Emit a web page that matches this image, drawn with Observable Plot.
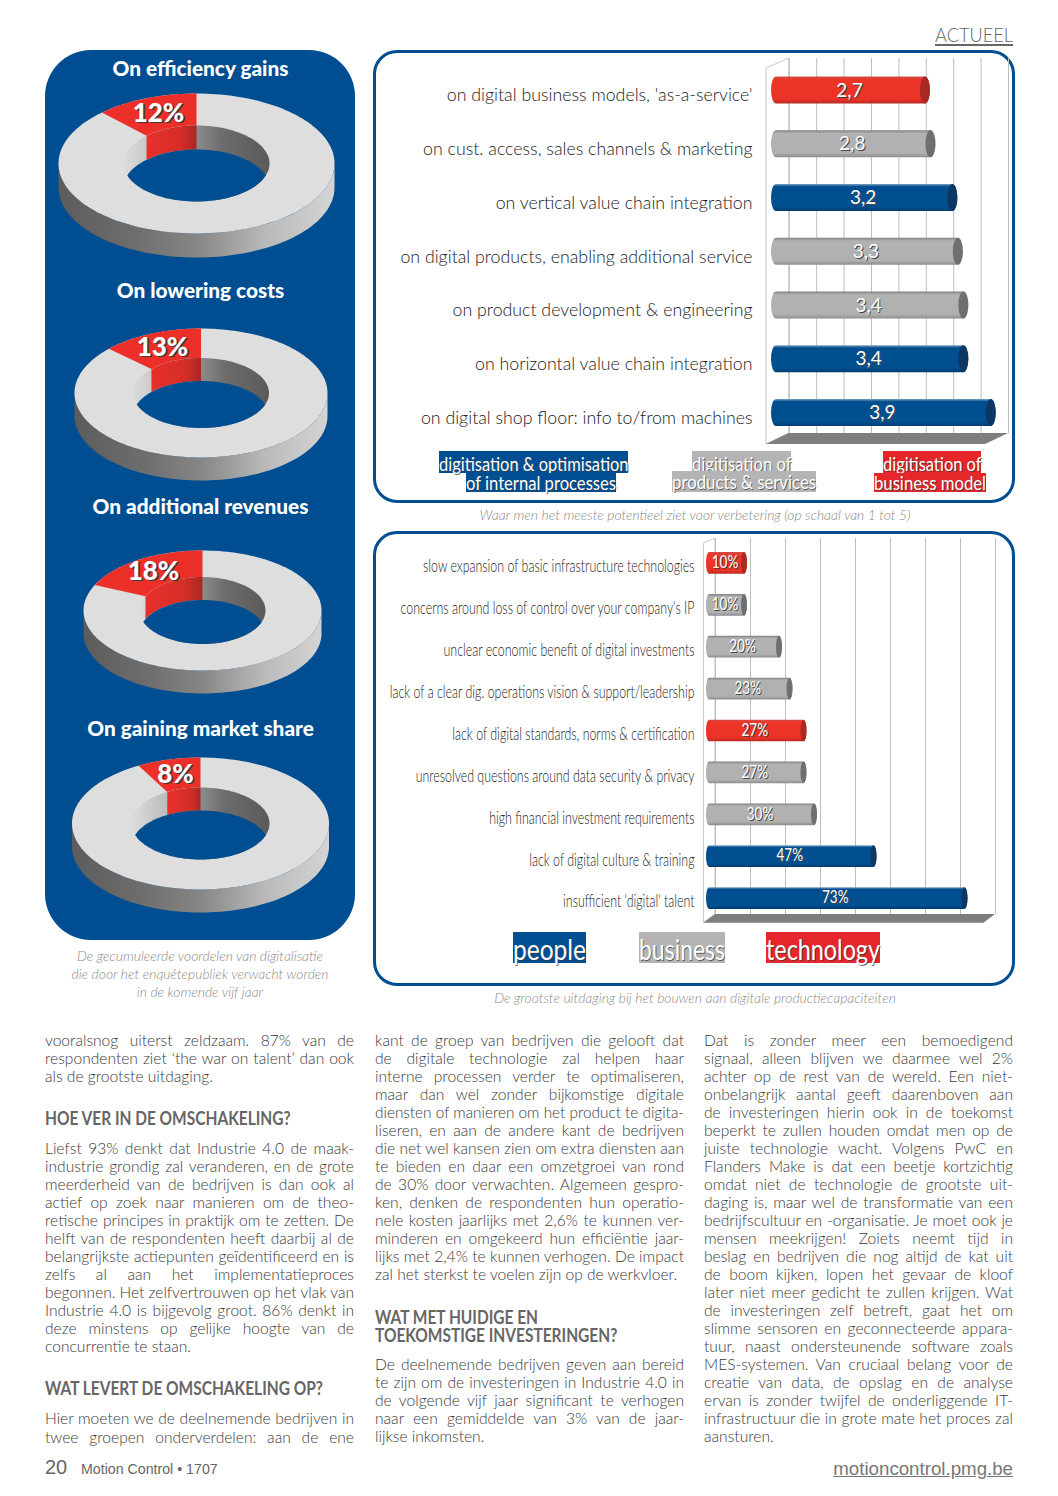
<!DOCTYPE html>
<html><head><meta charset="utf-8">
<script src="https://cdn.jsdelivr.net/npm/d3@7"></script>
<script src="https://cdn.jsdelivr.net/npm/@observablehq/plot@0.6"></script>
<style>
html,body{margin:0;padding:0;background:#fff}
#page{position:relative;width:1058px;height:1496px;overflow:hidden;font-family:Lato,sans-serif;font-weight:300;color:#333}
.abs{position:absolute;white-space:nowrap}
.frame{position:absolute;box-sizing:border-box;border:3.5px solid #004e92;border-radius:24px;left:373px;width:642px}
.plot{position:absolute}
.cap{position:absolute;text-align:center;font-style:italic;color:#8a8a8a;font-size:13.9px;white-space:nowrap}
.line{position:absolute;height:18px;line-height:18px;font-size:15.6px;white-space:nowrap;color:#3a3a3a;width:309px}
.line span{display:inline-block;transform-origin:left center}
.head{position:absolute;font-size:18px;line-height:18px;font-weight:700;color:#666;white-space:pre;transform:scaleX(.86);transform-origin:left center}
.leg{position:absolute;color:#fff;white-space:nowrap;font-weight:400;text-shadow:1px 1px 0 rgba(60,60,60,.75)}
.leg span{display:inline-block;transform-origin:left center}
</style></head><body><div id="page"></div>
<script>
// ---------- data ----------
const benefitTitles = ["On efficiency gains","On lowering costs","On additional revenues","On gaining market share"];
const benefitShares = [12,13,18,8];
const potentialLabels = ["on digital business models, 'as-a-service'","on cust. access, sales channels & marketing","on vertical value chain integration","on digital products, enabling additional service","on product development & engineering","on horizontal value chain integration","on digital shop floor: info to/from machines"];
const potentialValues = [2.7,2.8,3.2,3.3,3.4,3.4,3.9];
const potentialGroups = ["model","products","internal","products","products","internal","internal"];
const challengeLabels = ["slow expansion of basic infrastructure technologies","concerns around loss of control over your company's IP","unclear economic benefit of digital investments","lack of a clear dig. operations vision & support/leadership","lack of digital standards, norms & certification","unresolved questions around data security & privacy","high financial investment requirements","lack of digital culture & training","insufficient 'digital' talent"];
const challengeValues = [10,10,20,23,27,27,30,47,73];
const challengeGroups = ["technology","business","business","business","technology","business","business","people","people"];
const potentialTicks = [0,0.5,1,1.5,2,2.5,3,3.5,4];
const challengeTicks = [0,10,20,30,40,50,60,70,80];
const col1a = ["vooralsnog uiterst zeldzaam. 87% van de","respondenten ziet ‘the war on talent’ dan ook","als de grootste uitdaging."];
const col1b = ["Liefst 93% denkt dat Industrie 4.0 de maak-","industrie grondig zal veranderen, en de grote","meerderheid van de bedrijven is dan ook al","actief op zoek naar manieren om de theo-","retische principes in praktijk om te zetten. De","helft van de respondenten heeft daarbij al de","belangrijkste actiepunten geïdentificeerd en is","zelfs al aan het implementatieproces","begonnen. Het zelfvertrouwen op het vlak van","Industrie 4.0 is bijgevolg groot. 86% denkt in","deze minstens op gelijke hoogte van de","concurrentie te staan."];
const col1c = ["Hier moeten we de deelnemende bedrijven in","twee groepen onderverdelen: aan de ene"];
const col2a = ["kant de groep van bedrijven die gelooft dat","de digitale technologie zal helpen haar","interne processen verder te optimaliseren,","maar dan wel zonder bijkomstige digitale","diensten of manieren om het product te digita-","liseren, en aan de andere kant de bedrijven","die net wel kansen zien om extra diensten aan","te bieden en daar een omzetgroei van rond","de 30% door verwachten. Algemeen gespro-","ken, denken de respondenten hun operatio-","nele kosten jaarlijks met 2,6% te kunnen ver-","minderen en omgekeerd hun efficiëntie jaar-","lijks met 2,4% te kunnen verhogen. De impact","zal het sterkst te voelen zijn op de werkvloer."];
const col2b = ["De deelnemende bedrijven geven aan bereid","te zijn om de investeringen in Industrie 4.0 in","de volgende vijf jaar significant te verhogen","naar een gemiddelde van 3% van de jaar-","lijkse inkomsten."];
const col3a = ["Dat is zonder meer een bemoedigend","signaal, alleen blijven we daarmee wel 2%","achter op de rest van de wereld. Een niet-","onbelangrijk aantal geeft daarenboven aan","de investeringen hierin ook in de toekomst","beperkt te zullen houden omdat men op de","juiste technologie wacht. Volgens PwC en","Flanders Make is dat een beetje kortzichtig","omdat niet de technologie de grootste uit-","daging is, maar wel de transformatie van een","bedrijfscultuur en -organisatie. Je moet ook je","mensen meekrijgen! Zoiets neemt tijd in","beslag en bedrijven die nog altijd de kat uit","de boom kijken, lopen het gevaar de kloof","later niet meer gedicht te zullen krijgen. Wat","de investeringen zelf betreft, gaat het om","slimme sensoren en geconnecteerde appara-","tuur, naast ondersteunende software zoals","MES-systemen. Van cruciaal belang voor de","creatie van data, de opslag en de analyse","ervan is zonder twijfel de onderliggende IT-","infrastructuur die in grote mate het proces zal","aansturen."];

// ---------- layout helpers ----------
const page = document.getElementById("page");
function el(cls, css, text){const d=document.createElement("div");d.className=cls;d.style.cssText=css;if(text!=null)d.textContent=text;page.appendChild(d);return d;}
const BLUE="#004e92", RED="#e5262a", GREY="#b4b4b4";
function gradient(id, stops, vertical){
  return () => {
    const defs=d3.create("svg:defs");
    const g=defs.append("linearGradient").attr("id",id).attr("x1",0).attr("y1",0).attr("x2",vertical?0:1).attr("y2",vertical?1:0);
    stops.forEach(([o,c])=>g.append("stop").attr("offset",o).attr("stop-color",c));
    return defs.node();
  };
}

// ---------- left panel ----------
el("abs",`left:45px;top:50px;width:310px;height:890px;background:${BLUE};border-radius:46px`);
const shape = [
  {cx:196,cy:163,rx:138,ry:70,ix:73,iy:38,d:24,tx:158,ty:113,ly:69},
  {cx:200.5,cy:392.5,rx:126.5,ry:64.5,ix:68,iy:35,d:23,tx:162,ty:347,ly:291},
  {cx:202,cy:610,rx:119,ry:60,ix:63,iy:33.5,d:23,tx:153,ty:571,ly:507},
  {cx:200,cy:823,rx:128.5,ry:66,ix:69,iy:36,d:23,tx:175,ty:774,ly:729}
];
const arc=(s,rx,ry,cy,a0,a1,n=80)=>d3.range(n+1).map(i=>{const a=a0+(a1-a0)*i/n;return {x:s.cx+rx*Math.sin(a),y:cy-ry*Math.cos(a)};});
const TAU=Math.PI*2;
const poly=(pts,fill)=>Plot.line(pts,{x:"x",y:"y",fill,stroke:"none"});
const donutMarks=[];
shape.forEach((s,k)=>{
  const th=benefitShares[k]/100*TAU;
  const side=[...arc(s,s.rx,s.ry,s.cy,TAU/4,3*TAU/4),...arc(s,s.rx,s.ry,s.cy+s.d,3*TAU/4,TAU/4)];
  const top=arc(s,s.rx,s.ry,s.cy,0,TAU,180);
  const wedge=[...arc(s,s.rx,s.ry,s.cy,-th,0),...arc(s,s.ix,s.iy,s.cy,0,-th)];
  const wall=arc(s,s.ix,s.iy,s.cy,0,TAU,120);
  const redWall=[...arc(s,s.ix,s.iy,s.cy,-th,0),...arc(s,s.ix,s.iy,s.cy+s.d,0,-th)];
  const Y=s.d/2/s.iy, X=s.ix*Math.sqrt(1-Y*Y), aEdge=Math.asin(X/s.ix);
  const hole=[...arc(s,s.ix,s.iy,s.cy+s.d,-aEdge,aEdge),...arc(s,s.ix,s.iy,s.cy,Math.PI-aEdge,Math.PI+aEdge)];
  donutMarks.push(poly(side,"url(#side)"),poly(top,"#dedede"),poly(wedge,"#ec3029"),poly(wall,"url(#wall)"),poly(redWall,"url(#redwall)"),poly(hole,BLUE));
});
const pctRows=shape.map((s,i)=>({x:s.tx,y:s.ty,t:benefitShares[i]+"%"}));
const titleRows=shape.map((s,i)=>({x:200,y:s.ly,t:benefitTitles[i]}));
const donutPlot=Plot.plot({
  width:310,height:890,margin:0,style:{background:"transparent",overflow:"visible"},
  x:{domain:[45,355],range:[0,310],axis:null},y:{domain:[50,940],range:[0,890],axis:null},
  marks:[
    gradient("side",[[0,"#5c5c5c"],[.28,"#6e6e6e"],[.5,"#868686"],[.75,"#b9b9b9"],[1,"#d4d4d4"]]),
    gradient("wall",[[0,"#dcdcdc"],[.32,"#b4b4b4"],[.5,"#8c8c8c"],[.68,"#6c6c6c"],[1,"#5a5a5a"]]),
    gradient("redwall",[[0,"#e8302a"],[.7,"#d42d28"],[1,"#a92823"]]),
    ...donutMarks,
    Plot.text(pctRows,{x:"x",y:"y",text:"t",dx:1.5,dy:1.5,fill:"#3a3a3a",fontSize:26,fontWeight:900,fontFamily:"Lato"}),
    Plot.text(pctRows,{x:"x",y:"y",text:"t",fill:"#fff",fontSize:26,fontWeight:900,fontFamily:"Lato"}),
    Plot.text(titleRows,{x:"x",y:"y",text:"t",fill:"#fff",fontSize:20.8,fontWeight:900,fontFamily:"Lato"})
  ]});
donutPlot.classList.add("plot");donutPlot.style.left="45px";donutPlot.style.top="50px";page.appendChild(donutPlot);

// ---------- bar charts ----------
const gradStops={
  red:[[0,"#c9504a"],[.12,"#ee3528"],[.85,"#ea3227"],[1,"#b62a24"]],
  grey:[[0,"#7f8080"],[.12,"#b2b2b2"],[.85,"#b0b0b0"],[1,"#8c8c8c"]],
  blue:[[0,"#7fa0c0"],[.1,"#004e8f"],[.85,"#00508f"],[1,"#003a6e"]]
};
const groupStyle={model:["red","#a82a25"],technology:["red","#a82a25"],products:["grey","#6d7072"],business:["grey","#6d7072"],internal:["blue","#0c3763"],people:["blue","#0c3763"]};
function barChart({id,labels,values,groups,ticks,xDomain,xRange,yRange,left,top,height,mTop,mBottom,axisAt,offBack,offFront,capR,barH,startInset,floorDrop,wallDrop,fontSize,valueSize,dyLabel,dyValue,condense,valueCondense,fmt}){
  const rows=labels.map((l,i)=>({l,v:values[i],g:groups[i],key:groupStyle[groups[i]][0],cap:groupStyle[groups[i]][1]}));
  const step=(yRange[1]-yRange[0])/labels.length, inset=(step-barH)/2;
  const bars=Object.keys(gradStops).flatMap(k=>{
    const sub=rows.filter(r=>r.key===k);
    return [
      Plot.barX(sub,{x1:()=>0,x2:"v",y:"l",fill:`url(#${id}${k})`,insetTop:inset,insetBottom:inset,insetLeft:-startInset,insetRight:-capR,rx:capR,ry:barH/2}),
      Plot.barX(sub,{x1:"v",x2:"v",y:"l",fill:d=>d.cap,insetTop:inset,insetBottom:inset,insetLeft:-capR,insetRight:-capR,rx:capR,ry:barH/2})
    ];
  });
  const box=(index,scales,values,dim)=>{
    const x=scales.x;
    const x0=x(xDomain[0]),x1=x(xDomain[1]),yT=dim.marginTop,yB=dim.height-dim.marginBottom;
    const g=d3.create("svg:g");
    g.append("path").attr("d",`M${x0+offFront},${yT+wallDrop}L${x0+offBack},${yT}L${x0+offBack},${yB}L${x0+offFront},${yB+floorDrop}Z`).attr("fill","#fff").attr("stroke","#c9c6bd").attr("stroke-width",1);
    g.append("path").attr("d",`M${x0+offFront},${yB+floorDrop}L${x0+offBack},${yB}L${x1+offBack},${yB}L${x1+offFront},${yB+floorDrop}Z`).attr("fill","#7e7e7e");
    return g.node();
  };
  const plot=Plot.plot({
    width:640,height,marginLeft:axisAt,marginRight:0,marginTop:mTop,marginBottom:mBottom,
    style:{background:"transparent",overflow:"visible"},
    color:{type:"identity"},
    x:{domain:xDomain,range:xRange,axis:null},
    y:{type:"band",domain:labels,range:yRange,padding:0,round:false,axis:null},
    marks:[
      ...Object.entries(gradStops).map(([k,st])=>gradient(id+k,st,true)),
      box,
      Plot.ruleX(ticks,{x:d=>d,dx:offBack,stroke:"#bdbdbd",strokeWidth:1}),
      Plot.axisY({anchor:"left",tickSize:0,tickPadding:0,label:null,dy:dyLabel,fontSize,fill:"#222",fontFamily:"Lato",fontWeight:300}),
      ...bars,
      Plot.text(rows,{x:d=>d.v/2,y:"l",text:d=>fmt(d.v),dx:-1,dy:dyValue+1,fill:"#444",fontSize:valueSize,fontFamily:"Lato",fontWeight:400}),
      Plot.text(rows,{x:d=>d.v/2,y:"l",text:d=>fmt(d.v),dx:-2,dy:dyValue,fill:"#fff",fontSize:valueSize,fontFamily:"Lato",fontWeight:400})
    ]});
  plot.classList.add("plot");plot.style.left=left+"px";plot.style.top=top+"px";
  plot.querySelectorAll('[aria-label="y-axis tick label"] text').forEach(t=>t.setAttribute("transform",(t.getAttribute("transform")||"")+` scale(${condense},1)`));
  plot.querySelectorAll('[aria-label="text"] text').forEach(t=>t.setAttribute("transform",(t.getAttribute("transform")||"")+` scale(${valueCondense},1)`));
  page.appendChild(plot);
}
el("frame","top:50px;height:453px");
el("frame","top:531px;height:455px");
barChart({id:"a",labels:potentialLabels,values:potentialValues,groups:potentialGroups,ticks:potentialTicks,
  xDomain:[0,4],xRange:[403,622.2],yRange:[13.1,389.35],left:374,top:50,height:452,mTop:8,mBottom:69,axisAt:378,
  offBack:11.8,offFront:-11,capR:5,barH:27,startInset:6,floorDrop:11,wallDrop:10,fontSize:18.5,valueSize:19,dyLabel:5,dyValue:0,condense:.96,valueCondense:1,
  fmt:v=>String(v).replace(".",",")});
barChart({id:"b",labels:challengeLabels,values:challengeValues,groups:challengeGroups,ticks:challengeTicks,
  xDomain:[0,80],xRange:[335,615],yRange:[10,387],left:374,top:532,height:453,mTop:6,mBottom:71,axisAt:320,
  offBack:6,offFront:-5.6,capR:3,barH:21.7,startInset:3,floorDrop:8.7,wallDrop:5,fontSize:18.5,valueSize:18,dyLabel:3,dyValue:-1,condense:.67,valueCondense:.75,
  fmt:v=>v+"%"});

// ---------- legends ----------
function legendBox(left,top,w,h,bg,text,fs,lh){
  const d=el("leg",`left:${left}px;top:${top}px;width:${w}px;height:${h}px;background:${bg};font-size:${fs}px;line-height:${lh}px;`);
  const s=document.createElement("span");s.textContent=text;d.appendChild(s);
  s.style.transform=`scaleX(${w/s.getBoundingClientRect().width})`;
}
legendBox(438.5,451,189.5,22,BLUE,"digitisation & optimisation",19.5,26);
legendBox(466,473,150,19,BLUE,"of internal processes",19.5,19);
legendBox(691.5,451,99.5,21,GREY,"digitisation of",19.5,26);
legendBox(672,471,144,21,GREY,"products & services",19.5,22);
legendBox(882.5,451,98.5,22,RED,"digitisation of",19.5,26);
legendBox(874,473,112,19,RED,"business model",19.5,19);
legendBox(513,932,73,31,BLUE,"people",28,34);
legendBox(639,932,86,31,GREY,"business",28,34);
legendBox(766,932,114,31,RED,"technology",28,34);

// ---------- captions ----------
el("cap","left:374px;width:642px;top:506px;line-height:18px","Waar men het meeste potentieel ziet voor verbetering (op schaal van 1 tot 5)");
el("cap","left:374px;width:642px;top:989px;line-height:18px","De grootste uitdaging bij het bouwen aan digitale productiecapaciteiten");
["De gecumuleerde voordelen van digitalisatie","die door het enquêtepubliek verwacht worden","in de komende vijf jaar"].forEach((t,i)=>el("cap",`left:45px;width:310px;top:${947+18*i}px;line-height:18px`,t));

// ---------- running text: every line but a paragraph's last is set to the full column ----------
function block(lines,left,top,pitch,lastOpen=true){
  const W=309;
  lines.forEach((t,i)=>{
    const d=el("line",`left:${left}px;top:${top+i*pitch}px`);
    const s=document.createElement("span");s.textContent=t;d.appendChild(s);
    if(lastOpen && i===lines.length-1) return;
    const w=s.getBoundingClientRect().width, gaps=(t.match(/ /g)||[]).length;
    if(w>W) s.style.transform=`scaleX(${W/w})`;
    else if(gaps) s.style.wordSpacing=((W-w)/gaps)+"px";
  });
}
block(col1a,45,1031,18);
el("head","left:45px;top:1109px","HOE VER IN DE OMSCHAKELING?");
block(col1b,45,1139,18);
el("head","left:45px;top:1379px","WAT LEVERT DE OMSCHAKELING OP?");
block(col1c,45,1409,18.5,false);
block(col2a,375,1031,18);
el("head","left:375px;top:1308px","WAT MET HUIDIGE EN\nTOEKOMSTIGE INVESTERINGEN?");
block(col2b,375,1355,18);
block(col3a,704,1031,18);

// ---------- furniture ----------
el("abs","left:935px;top:22px;font-size:20px;line-height:24px;color:#666;text-decoration:underline;text-underline-offset:2px;transform:scaleX(.91);transform-origin:left center","ACTUEEL");
el("abs","left:45px;top:1454px;font-family:'Liberation Sans';font-size:20px;line-height:26px;color:#666;font-weight:400","20");
el("abs","left:81px;top:1459px;font-family:'Liberation Sans';font-size:14.2px;line-height:20px;color:#666;font-weight:400","Motion Control • 1707");
el("abs","right:45px;top:1457px;font-family:'Liberation Sans';font-size:18.7px;line-height:24px;color:#777;font-weight:400;text-decoration:underline","motioncontrol.pmg.be");
</script></body></html>
